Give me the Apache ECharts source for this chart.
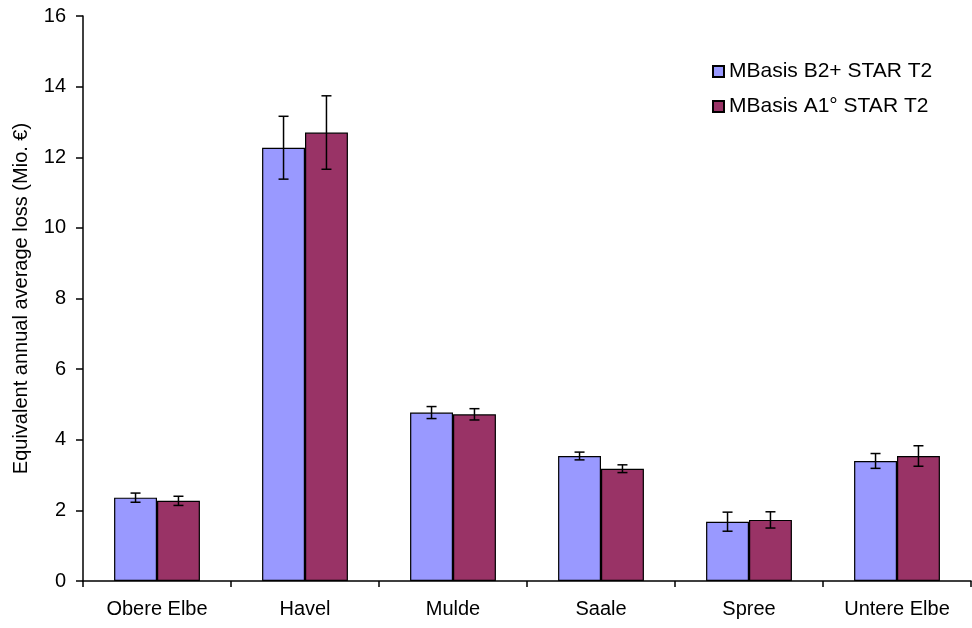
<!DOCTYPE html>
<html>
<head>
<meta charset="utf-8">
<script src="https://cdn.jsdelivr.net/npm/echarts@6/dist/echarts.min.js"></script>
<style>html,body{margin:0;padding:0;background:#fff}#c{width:972px;height:628px}</style>
</head>
<body>
<div id="c"></div>
<script>
var categories = ['Obere Elbe', 'Havel', 'Mulde', 'Saale', 'Spree', 'Untere Elbe'];
var seriesNames = ['MBasis B2+ STAR T2', 'MBasis A1° STAR T2'];
var b2Values = [2.36, 12.27, 4.77, 3.54, 1.68, 3.40];
var b2Errors = [0.13, 0.89, 0.17, 0.11, 0.27, 0.21];
var a1Values = [2.27, 12.70, 4.72, 3.18, 1.73, 3.54];
var a1Errors = [0.13, 1.04, 0.16, 0.11, 0.23, 0.29];
var yTicks = [0, 2, 4, 6, 8, 10, 12, 14, 16];

var FONT = 'Liberation Sans, Arial, sans-serif';
var GAP = 0.42;

function errData(vals, errs) {
  return vals.map(function (v, i) { return [i, v, errs[i]]; });
}
function errRender(side) {
  return function (params, api) {
    var i = api.value(0), v = api.value(1), e = api.value(2);
    var catW = api.size([1, 0])[0];
    var bw = catW * (1 - GAP) / 2;
    var c = api.coord([i, v]);
    var x = c[0] + side * bw / 2;
    var top = api.coord([i, v + e])[1];
    var bot = api.coord([i, v - e])[1];
    var cap = 5;
    var st = { stroke: '#000', lineWidth: 1.5 };
    return {
      type: 'group',
      children: [
        { type: 'line', shape: { x1: x, y1: top, x2: x, y2: bot }, style: st },
        { type: 'line', shape: { x1: x - cap, y1: top, x2: x + cap, y2: top }, style: st },
        { type: 'line', shape: { x1: x - cap, y1: bot, x2: x + cap, y2: bot }, style: st }
      ]
    };
  };
}

var chart = echarts.init(document.getElementById('c'), null, { renderer: 'canvas' });
chart.setOption({
  animation: false,
  backgroundColor: '#fff',
  textStyle: { fontFamily: FONT },
  grid: { left: 83, right: 1, top: 16, bottom: 47, containLabel: false, outerBoundsMode: 'none' },
  legend: {
    data: seriesNames,
    orient: 'vertical',
    left: 707,
    top: 56,
    itemWidth: 11,
    itemHeight: 11,
    itemGap: 14,
    icon: 'rect',
    textStyle: { fontFamily: FONT, fontSize: 21, lineHeight: 21, color: '#000' }
  },
  xAxis: {
    type: 'category',
    data: categories,
    axisLine: { lineStyle: { color: '#000', width: 1.5 } },
    axisTick: { show: true, alignWithLabel: false, length: 6, lineStyle: { color: '#000', width: 1.5 } },
    axisLabel: { color: '#000', fontSize: 20, fontFamily: FONT, margin: 18 },
    splitLine: { show: false }
  },
  yAxis: {
    type: 'value',
    min: 0,
    max: 16,
    interval: 2,
    name: 'Equivalent annual average loss (Mio. €)',
    nameLocation: 'middle',
    nameRotate: 90,
    nameGap: 52,
    nameTextStyle: { color: '#000', fontSize: 20, fontFamily: FONT },
    axisLine: { show: true, lineStyle: { color: '#000', width: 1.5 } },
    axisTick: { show: true, length: 7, lineStyle: { color: '#000', width: 1.5 } },
    axisLabel: {
      color: '#000', fontSize: 20, fontFamily: FONT, margin: 17,
      formatter: function (v) { return yTicks.indexOf(v) >= 0 ? String(v) : ''; }
    },
    splitLine: { show: false }
  },
  series: [
    {
      name: seriesNames[0], type: 'bar', data: b2Values,
      barGap: '0%', barCategoryGap: (GAP * 100) + '%',
      itemStyle: { color: '#9999FF', borderColor: '#000', borderWidth: 1.2 }
    },
    {
      name: seriesNames[1], type: 'bar', data: a1Values,
      barGap: '0%', barCategoryGap: (GAP * 100) + '%',
      itemStyle: { color: '#993366', borderColor: '#000', borderWidth: 1.2 }
    },
    {
      name: 'errB2', type: 'custom', data: errData(b2Values, b2Errors),
      encode: { x: 0, y: 1 }, renderItem: errRender(-1), z: 10, silent: true
    },
    {
      name: 'errA1', type: 'custom', data: errData(a1Values, a1Errors),
      encode: { x: 0, y: 1 }, renderItem: errRender(1), z: 10, silent: true
    }
  ]
});
</script>
</body>
</html>
